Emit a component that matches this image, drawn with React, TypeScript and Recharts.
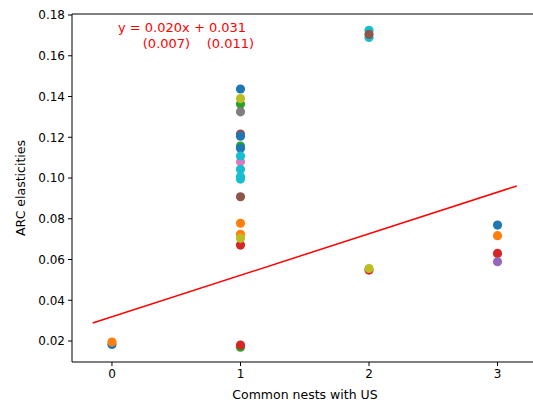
import React from 'react'
import {
  ScatterChart,
  Scatter,
  XAxis,
  YAxis,
  ReferenceLine,
} from 'recharts'

type Pt = { x: number; y: number }

// tick labels
const X_TICKS = [0, 1, 2, 3]
const Y_TICKS = [0.02, 0.04, 0.06, 0.08, 0.1, 0.12, 0.14, 0.16, 0.18]

// points drawn first (sit underneath the others)
const cyanUnder: Pt[] = [
  { x: 2, y: 0.1725 },
  { x: 2, y: 0.169 },
]
const brownUnder: Pt[] = [
  { x: 1, y: 0.1216 },
  { x: 2, y: 0.1705 },
]
const greenUnder: Pt[] = [{ x: 1, y: 0.1157 }]

const blue: Pt[] = [
  { x: 0, y: 0.0183 },
  { x: 1, y: 0.1437 },
  { x: 1, y: 0.1205 },
  { x: 1, y: 0.1146 },
  { x: 3, y: 0.0769 },
]
const orange: Pt[] = [
  { x: 0, y: 0.0195 },
  { x: 1, y: 0.0778 },
  { x: 1, y: 0.0724 },
  { x: 3, y: 0.0717 },
]
const green: Pt[] = [
  { x: 1, y: 0.1363 },
  { x: 1, y: 0.017 },
]
const red: Pt[] = [
  { x: 1, y: 0.0671 },
  { x: 1, y: 0.018 },
  { x: 2, y: 0.0548 },
  { x: 3, y: 0.063 },
]
const purple: Pt[] = [{ x: 3, y: 0.0589 }]
const brown: Pt[] = [{ x: 1, y: 0.0908 }]
const pink: Pt[] = [{ x: 1, y: 0.108 }]
const gray: Pt[] = [{ x: 1, y: 0.1325 }]
const olive: Pt[] = [
  { x: 1, y: 0.139 },
  { x: 1, y: 0.0704 },
  { x: 2, y: 0.0556 },
]
const cyan: Pt[] = [
  { x: 1, y: 0.1108 },
  { x: 1, y: 0.1043 },
  { x: 1, y: 0.1006 },
  { x: 1, y: 0.0995 },
]

// fitted line end points
const fitLine: Pt[] = [
  { x: -0.15, y: 0.0288 },
  { x: 3.15, y: 0.0961 },
]

const SERIES: { name: string; color: string; data: Pt[] }[] = [
  { name: 'c9a', color: '#17becf', data: cyanUnder },
  { name: 'c5a', color: '#8c564b', data: brownUnder },
  { name: 'c2a', color: '#2ca02c', data: greenUnder },
  { name: 'c0', color: '#1f77b4', data: blue },
  { name: 'c1', color: '#ff7f0e', data: orange },
  { name: 'c2', color: '#2ca02c', data: green },
  { name: 'c3', color: '#d62728', data: red },
  { name: 'c4', color: '#9467bd', data: purple },
  { name: 'c5', color: '#8c564b', data: brown },
  { name: 'c6', color: '#e377c2', data: pink },
  { name: 'c7', color: '#7f7f7f', data: gray },
  { name: 'c8', color: '#bcbd22', data: olive },
  { name: 'c9', color: '#17becf', data: cyan },
]

const FONT = 'DejaVu Sans'
const X_DOMAIN: [number, number] = [-0.311, 3.315]
const Y_DOMAIN: [number, number] = [0.0097, 0.1805]

const dot = (color: string) => (p: any) =>
  <circle cx={p.cx} cy={p.cy} r={4.6} fill={color} />

export default function App() {
  return (
    <div
      style={{
        position: 'fixed',
        left: 0,
        top: 0,
        width: 533,
        height: 409,
        overflow: 'hidden',
        background: '#fff',
        fontFamily: FONT,
      }}
    >
      <ScatterChart
        width={545}
        height={409}
        margin={{ top: 14, right: 7, bottom: 17, left: 0 }}
      >
        <XAxis
          type="number"
          dataKey="x"
          domain={X_DOMAIN}
          ticks={X_TICKS}
          allowDataOverflow
          height={30}
          tickSize={4}
          tickMargin={3}
          stroke="#000"
          tick={{ fill: '#000', fontFamily: FONT, fontSize: 12 }}
        />
        <YAxis
          type="number"
          dataKey="y"
          domain={Y_DOMAIN}
          ticks={Y_TICKS}
          allowDataOverflow
          width={72}
          tickSize={4}
          tickMargin={3}
          stroke="#000"
          tickFormatter={(v: number) => v.toFixed(2)}
          tick={{ fill: '#000', fontFamily: FONT, fontSize: 12 }}
        />
        <ReferenceLine y={Y_DOMAIN[1]} stroke="#000" strokeWidth={1} />
        <ReferenceLine x={X_DOMAIN[1]} stroke="#000" strokeWidth={1} />
        {SERIES.map(s => (
          <Scatter
            key={s.name}
            name={s.name}
            data={s.data}
            fill={s.color}
            shape={dot(s.color)}
            isAnimationActive={false}
          />
        ))}
        <ReferenceLine
          segment={[fitLine[0], fitLine[1]]}
          stroke="#ff0000"
          strokeWidth={1.5}
        />
      </ScatterChart>

      {/* regression annotation */}
      <div
        style={{
          position: 'absolute',
          left: 118,
          top: 20,
          color: '#ff0000',
          fontSize: 13,
          lineHeight: '16px',
          whiteSpace: 'pre',
        }}
      >
        {'y = 0.020x + 0.031\n      (0.007)    (0.011)'}
      </div>

      {/* axis titles */}
      <div
        style={{
          position: 'absolute',
          left: 305,
          top: 387,
          transform: 'translateX(-50%)',
          fontSize: 12.5,
          whiteSpace: 'nowrap',
          color: '#000',
        }}
      >
        Common nests with US
      </div>
      <div
        style={{
          position: 'absolute',
          left: 20,
          top: 188,
          transform: 'translate(-50%, -50%) rotate(-90deg)',
          fontSize: 12.5,
          whiteSpace: 'nowrap',
          color: '#000',
        }}
      >
        ARC elasticities
      </div>
    </div>
  )
}
